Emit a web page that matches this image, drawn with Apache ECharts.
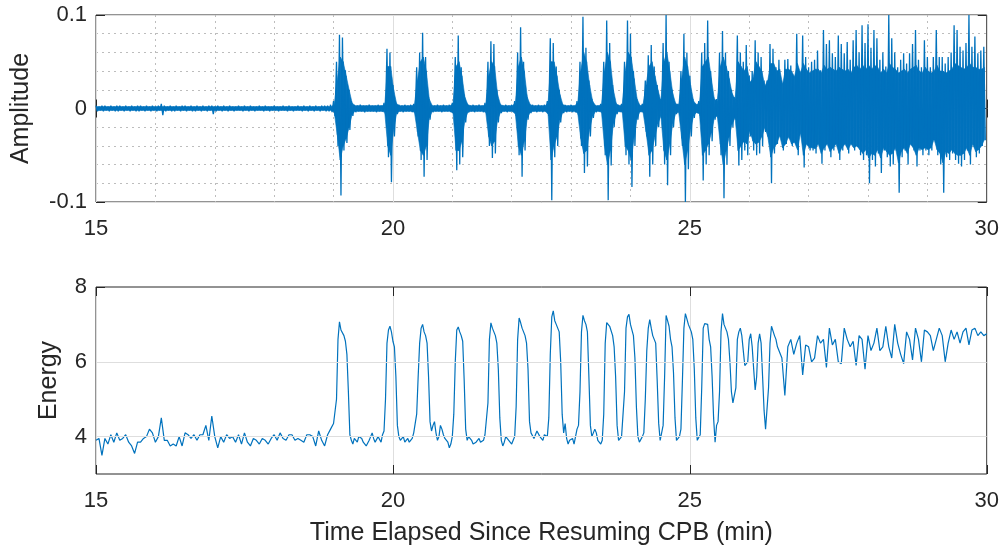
<!DOCTYPE html>
<html><head><meta charset="utf-8">
<script src="https://cdn.jsdelivr.net/npm/echarts@6/dist/echarts.min.js"></script>
<style>html,body{margin:0;padding:0;background:#fff}#c{width:1002px;height:552px}</style>
</head><body><div id="c"></div>
<script>
// ---- data ----
const xTicks = [15, 20, 25, 30];
const ampTicks = [-0.1, 0, 0.1];
const energyTicks = [4, 6, 8];

// amplitude: per 0.05-min sample from 15.00 — extreme spike values (upper/lower)
const ampStart = 15, ampStep = 0.05;
const ampUpper = [
0.003,0.002,0.003,0.003,0.002,0.003,0.002,0.003,0.003,0.002,
0.003,0.002,0.003,0.002,0.003,0.003,0.002,0.003,0.002,0.003,
0.002,0.003,0.005,0.003,0.002,0.003,0.002,0.003,0.002,0.003,
0.003,0.002,0.003,0.002,0.003,0.002,0.003,0.002,0.003,0.003,
0.002,0.003,0.002,0.003,0.002,0.003,0.002,0.002,0.003,0.002,
0.003,0.002,0.003,0.002,0.002,0.003,0.002,0.003,0.002,0.002,
0.003,0.002,0.002,0.003,0.002,0.003,0.002,0.002,0.003,0.002,
0.003,0.002,0.003,0.002,0.003,0.002,0.003,0.003,0.003,0.004,
0.008,0.050,0.079,0.076,0.041,0.020,0.008,0.004,0.003,0.004,
0.003,0.003,0.004,0.003,0.003,0.004,0.003,0.006,0.064,0.060,
0.025,0.006,0.004,0.003,0.004,0.003,0.004,0.005,0.044,0.060,
0.081,0.055,0.012,0.004,0.003,0.004,0.003,0.004,0.003,0.004,
0.006,0.055,0.078,0.044,0.015,0.005,0.003,0.004,0.003,0.004,
0.003,0.006,0.050,0.072,0.069,0.020,0.005,0.003,0.004,0.003,
0.004,0.008,0.060,0.087,0.050,0.015,0.005,0.004,0.003,0.004,
0.003,0.004,0.008,0.075,0.070,0.045,0.020,0.005,0.004,0.003,
0.004,0.003,0.008,0.050,0.098,0.065,0.030,0.010,0.004,0.003,
0.005,0.050,0.094,0.070,0.025,0.006,0.004,0.005,0.050,0.094,
0.080,0.040,0.012,0.004,0.005,0.030,0.057,0.068,0.045,0.025,
0.010,0.070,0.100,0.050,0.020,0.006,0.005,0.040,0.080,0.060,
0.035,0.010,0.005,0.008,0.060,0.070,0.094,0.040,0.012,0.010,
0.060,0.083,0.060,0.040,0.020,0.012,0.078,0.060,0.050,0.068,
0.035,0.040,0.073,0.060,0.055,0.030,0.030,0.069,0.064,0.044,
0.052,0.027,0.052,0.053,0.046,0.034,0.080,0.040,0.078,0.055,
0.044,0.050,0.052,0.062,0.041,0.084,0.069,0.073,0.059,0.055,
0.078,0.069,0.059,0.071,0.052,0.073,0.084,0.060,0.089,0.070,
0.090,0.065,0.084,0.075,0.052,0.060,0.045,0.100,0.075,0.060,
0.044,0.052,0.059,0.048,0.059,0.069,0.084,0.052,0.044,0.073,
0.055,0.044,0.055,0.084,0.055,0.055,0.048,0.055,0.060,0.089,
0.084,0.066,0.062,0.070,0.100,0.066,0.077,0.059,0.062,0.066
];
const ampLower = [
-0.003,-0.002,-0.003,-0.002,-0.003,-0.002,-0.003,-0.003,-0.002,-0.003,
-0.002,-0.003,-0.002,-0.003,-0.003,-0.002,-0.003,-0.002,-0.003,-0.002,
-0.003,-0.002,-0.007,-0.003,-0.002,-0.003,-0.003,-0.002,-0.003,-0.002,
-0.003,-0.002,-0.003,-0.003,-0.002,-0.003,-0.002,-0.003,-0.002,-0.006,
-0.003,-0.002,-0.003,-0.002,-0.003,-0.002,-0.003,-0.002,-0.002,-0.003,
-0.002,-0.003,-0.002,-0.003,-0.002,-0.002,-0.003,-0.002,-0.003,-0.002,
-0.002,-0.003,-0.002,-0.002,-0.003,-0.002,-0.003,-0.002,-0.002,-0.003,
-0.002,-0.003,-0.002,-0.003,-0.002,-0.003,-0.002,-0.003,-0.003,-0.004,
-0.008,-0.040,-0.093,-0.045,-0.037,-0.023,-0.008,-0.004,-0.003,-0.003,
-0.004,-0.003,-0.003,-0.003,-0.004,-0.003,-0.003,-0.006,-0.052,-0.079,
-0.030,-0.006,-0.003,-0.004,-0.003,-0.003,-0.004,-0.005,-0.030,-0.055,
-0.073,-0.055,-0.012,-0.004,-0.003,-0.003,-0.004,-0.003,-0.003,-0.004,
-0.006,-0.066,-0.060,-0.052,-0.015,-0.004,-0.003,-0.004,-0.003,-0.003,
-0.004,-0.005,-0.040,-0.053,-0.048,-0.015,-0.005,-0.003,-0.004,-0.003,
-0.004,-0.008,-0.050,-0.073,-0.045,-0.012,-0.005,-0.003,-0.004,-0.003,
-0.004,-0.003,-0.008,-0.098,-0.052,-0.040,-0.015,-0.005,-0.004,-0.003,
-0.004,-0.004,-0.007,-0.040,-0.069,-0.062,-0.030,-0.010,-0.004,-0.003,
-0.005,-0.050,-0.098,-0.061,-0.020,-0.006,-0.004,-0.005,-0.050,-0.060,
-0.084,-0.040,-0.012,-0.004,-0.005,-0.030,-0.073,-0.060,-0.040,-0.020,
-0.010,-0.060,-0.082,-0.050,-0.020,-0.006,-0.005,-0.040,-0.100,-0.065,
-0.030,-0.010,-0.005,-0.008,-0.077,-0.060,-0.050,-0.035,-0.012,-0.010,
-0.050,-0.096,-0.060,-0.040,-0.020,-0.012,-0.061,-0.055,-0.045,-0.050,
-0.030,-0.045,-0.050,-0.048,-0.040,-0.025,-0.030,-0.080,-0.048,-0.038,
-0.030,-0.045,-0.038,-0.032,-0.040,-0.036,-0.050,-0.027,-0.063,-0.038,
-0.045,-0.045,-0.048,-0.038,-0.059,-0.045,-0.038,-0.052,-0.045,-0.038,
-0.055,-0.045,-0.038,-0.048,-0.038,-0.045,-0.041,-0.050,-0.055,-0.050,
-0.080,-0.055,-0.062,-0.048,-0.069,-0.045,-0.052,-0.062,-0.060,-0.045,
-0.090,-0.052,-0.045,-0.060,-0.038,-0.045,-0.062,-0.045,-0.050,-0.045,
-0.050,-0.045,-0.034,-0.050,-0.060,-0.090,-0.052,-0.055,-0.048,-0.055,
-0.059,-0.062,-0.055,-0.045,-0.060,-0.038,-0.052,-0.048,-0.040,-0.034
];
// amplitude: extent of the solidly filled core of the trace in each sample
const coreUpper = [
0.002,0.002,0.002,0.002,0.002,0.002,0.002,0.002,0.002,0.002,
0.002,0.002,0.002,0.002,0.002,0.002,0.002,0.002,0.002,0.002,
0.002,0.002,0.002,0.002,0.002,0.002,0.002,0.002,0.002,0.002,
0.002,0.002,0.002,0.002,0.002,0.002,0.002,0.002,0.002,0.002,
0.002,0.002,0.002,0.002,0.002,0.002,0.002,0.002,0.002,0.002,
0.002,0.002,0.002,0.002,0.002,0.002,0.002,0.002,0.002,0.002,
0.002,0.002,0.002,0.002,0.002,0.002,0.002,0.002,0.002,0.002,
0.002,0.002,0.002,0.002,0.002,0.002,0.002,0.002,0.002,0.002,
0.004,0.030,0.055,0.050,0.035,0.020,0.006,0.003,0.003,0.003,
0.003,0.003,0.003,0.003,0.003,0.003,0.003,0.004,0.045,0.045,
0.020,0.005,0.003,0.003,0.003,0.003,0.003,0.004,0.030,0.050,
0.055,0.040,0.010,0.003,0.003,0.003,0.003,0.003,0.003,0.003,
0.005,0.045,0.050,0.035,0.012,0.004,0.003,0.003,0.003,0.003,
0.003,0.004,0.035,0.050,0.045,0.015,0.004,0.003,0.003,0.003,
0.003,0.006,0.045,0.055,0.040,0.012,0.004,0.003,0.003,0.003,
0.003,0.003,0.006,0.050,0.050,0.035,0.015,0.004,0.003,0.003,
0.003,0.003,0.006,0.040,0.060,0.050,0.025,0.008,0.003,0.003,
0.004,0.040,0.060,0.050,0.020,0.005,0.003,0.004,0.040,0.060,
0.055,0.032,0.010,0.003,0.004,0.025,0.045,0.050,0.035,0.020,
0.008,0.050,0.060,0.040,0.016,0.005,0.004,0.032,0.055,0.045,
0.025,0.008,0.004,0.006,0.045,0.050,0.055,0.032,0.010,0.008,
0.045,0.055,0.045,0.032,0.016,0.010,0.050,0.045,0.040,0.045,
0.028,0.032,0.050,0.045,0.040,0.024,0.030,0.048,0.048,0.040,
0.042,0.026,0.042,0.042,0.040,0.034,0.048,0.038,0.048,0.042,
0.038,0.040,0.042,0.042,0.038,0.046,0.042,0.044,0.042,0.040,
0.044,0.042,0.040,0.042,0.038,0.044,0.046,0.042,0.046,0.042,
0.046,0.042,0.046,0.044,0.038,0.042,0.038,0.048,0.044,0.042,
0.038,0.040,0.042,0.038,0.042,0.044,0.046,0.040,0.038,0.044,
0.040,0.038,0.040,0.046,0.040,0.040,0.038,0.040,0.042,0.048,
0.046,0.044,0.042,0.044,0.048,0.044,0.044,0.042,0.042,0.044
];
const coreLower = [
-0.002,-0.002,-0.002,-0.002,-0.002,-0.002,-0.002,-0.002,-0.002,-0.002,
-0.002,-0.002,-0.002,-0.002,-0.002,-0.002,-0.002,-0.002,-0.002,-0.002,
-0.002,-0.002,-0.002,-0.002,-0.002,-0.002,-0.002,-0.002,-0.002,-0.002,
-0.002,-0.002,-0.002,-0.002,-0.002,-0.002,-0.002,-0.002,-0.002,-0.002,
-0.002,-0.002,-0.002,-0.002,-0.002,-0.002,-0.002,-0.002,-0.002,-0.002,
-0.002,-0.002,-0.002,-0.002,-0.002,-0.002,-0.002,-0.002,-0.002,-0.002,
-0.002,-0.002,-0.002,-0.002,-0.002,-0.002,-0.002,-0.002,-0.002,-0.002,
-0.002,-0.002,-0.002,-0.002,-0.002,-0.002,-0.002,-0.002,-0.002,-0.002,
-0.004,-0.028,-0.055,-0.040,-0.032,-0.020,-0.006,-0.003,-0.003,-0.003,
-0.003,-0.003,-0.003,-0.003,-0.003,-0.003,-0.003,-0.004,-0.040,-0.050,
-0.022,-0.005,-0.003,-0.003,-0.003,-0.003,-0.003,-0.004,-0.025,-0.045,
-0.050,-0.040,-0.010,-0.003,-0.003,-0.003,-0.003,-0.003,-0.003,-0.003,
-0.005,-0.045,-0.045,-0.035,-0.012,-0.004,-0.003,-0.003,-0.003,-0.003,
-0.003,-0.004,-0.030,-0.040,-0.035,-0.012,-0.004,-0.003,-0.003,-0.003,
-0.003,-0.006,-0.040,-0.050,-0.035,-0.010,-0.004,-0.003,-0.003,-0.003,
-0.003,-0.003,-0.006,-0.055,-0.040,-0.030,-0.012,-0.004,-0.003,-0.003,
-0.003,-0.003,-0.005,-0.032,-0.048,-0.045,-0.022,-0.008,-0.003,-0.003,
-0.004,-0.040,-0.060,-0.045,-0.016,-0.005,-0.003,-0.004,-0.040,-0.045,
-0.055,-0.030,-0.010,-0.003,-0.004,-0.025,-0.050,-0.045,-0.030,-0.016,
-0.008,-0.045,-0.055,-0.038,-0.016,-0.005,-0.004,-0.032,-0.060,-0.045,
-0.022,-0.008,-0.004,-0.006,-0.050,-0.045,-0.038,-0.026,-0.010,-0.008,
-0.038,-0.060,-0.045,-0.030,-0.016,-0.010,-0.045,-0.040,-0.035,-0.038,
-0.024,-0.035,-0.038,-0.036,-0.030,-0.020,-0.030,-0.052,-0.042,-0.038,
-0.029,-0.042,-0.038,-0.030,-0.038,-0.036,-0.044,-0.026,-0.050,-0.038,
-0.042,-0.042,-0.043,-0.038,-0.048,-0.042,-0.038,-0.046,-0.042,-0.038,
-0.048,-0.042,-0.038,-0.044,-0.038,-0.042,-0.040,-0.044,-0.048,-0.044,
-0.053,-0.048,-0.050,-0.044,-0.053,-0.042,-0.046,-0.050,-0.048,-0.042,
-0.058,-0.046,-0.042,-0.048,-0.038,-0.042,-0.050,-0.042,-0.044,-0.042,
-0.044,-0.042,-0.033,-0.044,-0.048,-0.058,-0.046,-0.048,-0.044,-0.048,
-0.050,-0.050,-0.048,-0.042,-0.050,-0.038,-0.046,-0.044,-0.040,-0.033
];

// energy, segment A: 15.00 .. 19.00 every 0.05 min
const energyAStart = 15, energyAStep = 0.05;
const energyA = [
3.90,3.95,3.50,3.95,3.80,4.05,3.85,4.10,3.90,3.95,
4.05,3.85,3.75,3.55,3.85,3.85,3.95,4.00,4.20,4.10,
3.85,4.00,4.50,3.90,3.90,3.75,3.80,3.75,4.00,3.75,
4.10,4.05,3.95,4.05,3.90,4.05,4.05,4.30,3.90,4.55,
4.00,3.70,4.00,3.85,4.05,3.95,4.00,3.85,4.05,3.80,
4.10,3.85,3.75,3.95,3.90,3.80,3.95,3.90,3.80,3.95,
4.05,3.90,4.10,3.95,3.90,4.05,4.05,3.90,3.95,3.90,
3.85,4.05,4.05,4.00,3.75,4.15,3.90,3.75,4.05,4.20,
4.35
];
// energy, segment B (pulses): 19.025 .. 26.50 every 0.025 min
const energyBStart = 19.025, energyBStep = 0.025;
const energyB = [
4.40,5.00,6.60,7.07,6.85,6.90,6.70,6.55,6.20,5.20,
4.05,3.90,3.80,3.95,3.90,3.85,4.00,4.05,3.95,3.85,
3.90,3.75,3.80,3.90,4.00,4.10,3.95,3.85,3.90,4.00,
3.95,3.85,4.05,4.15,5.00,6.50,6.85,6.95,6.80,6.55,
6.40,5.60,4.30,4.00,3.90,3.95,4.00,3.85,3.90,3.95,
3.85,3.80,3.95,4.10,4.05,4.60,5.60,6.50,6.90,7.00,
6.80,6.70,6.50,5.60,4.40,4.15,4.30,4.40,4.10,3.90,
4.00,4.30,4.20,4.05,3.95,3.90,3.85,3.70,3.80,4.00,
4.60,6.00,6.85,6.93,6.80,6.70,6.55,5.50,4.20,3.90,
4.00,4.05,3.90,3.80,3.75,3.85,3.90,3.95,3.85,3.80,
3.90,4.05,4.10,4.90,6.60,7.04,6.90,6.80,6.70,6.50,
5.80,4.50,3.90,3.75,3.85,4.00,4.05,3.90,3.85,3.80,
3.90,4.00,4.80,6.60,7.17,7.05,6.90,6.85,6.70,6.50,
5.80,4.40,4.10,4.10,3.95,4.05,4.15,4.20,4.00,3.95,
3.90,4.05,4.10,4.00,4.50,6.20,7.20,7.36,7.10,7.00,
6.95,6.80,6.00,4.60,4.10,4.35,3.95,3.80,3.90,3.85,
3.95,3.80,4.00,4.20,4.30,5.20,6.80,7.24,7.10,7.00,
6.80,5.60,4.30,4.00,4.05,4.20,4.10,3.90,3.85,3.80,
3.90,4.60,6.50,7.05,7.10,6.95,6.90,6.70,6.40,5.60,
4.30,3.90,3.95,4.00,4.05,5.20,6.90,7.20,7.27,7.00,
6.95,6.70,6.10,4.80,4.00,3.85,3.90,4.00,4.10,5.00,
6.30,6.90,7.13,6.90,6.70,6.60,6.50,5.50,4.36,3.90,
3.87,4.30,5.60,7.24,7.10,6.95,6.60,6.40,5.70,4.50,
3.90,3.85,4.00,4.20,5.50,6.90,7.29,7.15,7.00,7.00,
6.80,6.60,5.80,4.50,3.90,3.92,4.05,5.30,6.90,7.02,
7.00,7.00,6.60,6.40,5.60,4.50,3.85,4.30,4.40,5.20,
6.80,7.29,7.00,6.90,6.80,6.60,6.00,5.20,4.90,4.95,
5.30,6.60,6.80,6.90,6.70,6.30,5.90,5.85,6.00,6.60,
6.75,6.40,5.80,5.25,5.60,6.50,6.75,6.50,5.60,4.70,
4.20,4.20,5.30,6.50,6.95,6.90,6.70,6.60,6.40,6.35
];
// energy, segment C: 26.55 .. 30.00 every 0.05 min
const energyCStart = 26.55, energyCStep = 0.05;
const energyC = [
6.10,5.10,6.40,6.60,6.20,6.50,6.70,5.65,6.45,
6.40,6.00,6.10,6.70,6.50,6.60,5.85,6.90,6.45,6.60,
6.00,5.95,6.90,6.60,6.40,6.55,5.90,6.70,6.60,5.80,
6.70,6.30,6.50,6.90,6.30,6.40,6.95,6.40,6.10,7.00,
6.50,6.20,5.95,6.80,6.60,6.05,6.90,6.60,6.00,6.85,
6.80,6.70,6.30,6.60,6.90,6.70,6.00,6.50,6.85,6.60,
6.80,6.50,6.80,6.90,6.45,6.85,6.90,6.70,6.80,6.70,6.75
];

// ---- build series data ----
const ampData = [];
for (let i = 0; i < ampUpper.length; i++) {
  const t = ampStart + i * ampStep;
  ampData.push([t, ampUpper[i]]);
  ampData.push([t + ampStep / 2, ampLower[i]]);
}
const coreData = coreUpper.map((u, i) => [ampStart + i * ampStep + ampStep / 4, coreLower[i], u]);
const energyData = []
  .concat(energyA.map((v, i) => [energyAStart + i * energyAStep, v]))
  .concat(energyB.map((v, i) => [energyBStart + i * energyBStep, v]))
  .concat(energyC.map((v, i) => [energyCStart + i * energyCStep, v]));

// ---- styling ----
const FONT = '"Liberation Sans", Arial, Helvetica, sans-serif';
const TXT = '#262626';
const GRIDC = '#dedede';
const MINORC = '#bdbdbd';
const BLUE = '#0072BD';
const TICK_FS = 22, NAME_FS = 25;

function xAx(grid, pos, main, minor) {
  return {
    type: 'value', gridIndex: grid, position: pos,
    min: xTicks[0], max: xTicks[xTicks.length - 1], interval: 5,
    axisLine: { show: false },
    axisTick: { show: true, inside: true, length: 9, lineStyle: { color: TXT, width: 1 } },
    axisLabel: { show: main, fontSize: TICK_FS, color: TXT, fontFamily: FONT, margin: 16 },
    splitLine: { show: main, lineStyle: { color: GRIDC, width: 1 } },
    minorTick: { show: false, splitNumber: 5 },
    minorSplitLine: { show: main && minor, lineStyle: { color: MINORC, width: 1, type: [2, 4] } }
  };
}

// core band: quadrilateral between consecutive samples, placed via the axes
function renderCore(params, api) {
  const i = params.dataIndex;
  if (i >= coreData.length - 1) return null;
  const a = coreData[i], b = coreData[i + 1];
  const pts = [
    api.coord([a[0], a[2]]), api.coord([b[0], b[2]]),
    api.coord([b[0], b[1]]), api.coord([a[0], a[1]])
  ];
  return {
    type: 'polygon', shape: { points: pts },
    style: { fill: BLUE, stroke: BLUE, lineWidth: 0.6 }
  };
}

const option = {
  animation: false,
  backgroundColor: '#ffffff',
  textStyle: { fontFamily: FONT },
  grid: [
    { left: 96, right: 14, top: 15, height: 187, show: true, borderColor: TXT, borderWidth: 1, backgroundColor: 'transparent', z: 0 },
    { left: 96, right: 14, top: 287, height: 187, show: true, borderColor: TXT, borderWidth: 1, backgroundColor: 'transparent', z: 0 }
  ],
  xAxis: [
    xAx(0, 'bottom', true, true),
    xAx(0, 'top', false, false),
    Object.assign(xAx(1, 'bottom', true, false), {
      name: 'Time Elapsed Since Resuming CPB (min)', nameLocation: 'middle', nameGap: 47,
      nameTextStyle: { fontSize: NAME_FS, color: TXT, fontFamily: FONT }
    }),
    xAx(1, 'top', false, false)
  ],
  yAxis: [
    {
      type: 'value', gridIndex: 0, position: 'left', min: ampTicks[0], max: ampTicks[2], interval: 0.1,
      axisLine: { show: false },
      axisTick: { show: true, inside: true, length: 9, lineStyle: { color: TXT } },
      axisLabel: { fontSize: TICK_FS, color: TXT, fontFamily: FONT, margin: 9 },
      splitLine: { show: true, lineStyle: { color: GRIDC } },
      minorTick: { show: false, splitNumber: 5 },
      minorSplitLine: { show: true, lineStyle: { color: MINORC, width: 1, type: [2, 4] } },
      name: 'Amplitude', nameLocation: 'middle', nameGap: 62,
      nameTextStyle: { fontSize: NAME_FS, color: TXT, fontFamily: FONT }
    },
    {
      type: 'value', gridIndex: 0, position: 'right', min: ampTicks[0], max: ampTicks[2], interval: 0.1,
      axisLine: { show: false },
      axisTick: { show: true, inside: true, length: 9, lineStyle: { color: TXT } },
      axisLabel: { show: false }, splitLine: { show: false }
    },
    {
      type: 'value', gridIndex: 1, position: 'left', min: 3, max: 8,
      axisLine: { show: false },
      axisTick: { show: true, inside: true, length: 9, lineStyle: { color: TXT }, customValues: energyTicks },
      axisLabel: { fontSize: TICK_FS, color: TXT, fontFamily: FONT, margin: 9, customValues: energyTicks },
      splitLine: { show: false },
      name: 'Energy', nameLocation: 'middle', nameGap: 34,
      nameTextStyle: { fontSize: NAME_FS, color: TXT, fontFamily: FONT }
    },
    {
      type: 'value', gridIndex: 1, position: 'right', min: 3, max: 8,
      axisLine: { show: false },
      axisTick: { show: true, inside: true, length: 9, lineStyle: { color: TXT }, customValues: energyTicks },
      axisLabel: { show: false }, splitLine: { show: false }
    }
  ],
  series: [
    {
      type: 'custom', xAxisIndex: 0, yAxisIndex: 0, data: coreData,
      encode: { x: 0, y: [1, 2] }, renderItem: renderCore, z: 2, silent: true, clip: true
    },
    { // spikes
      type: 'line', xAxisIndex: 0, yAxisIndex: 0, data: ampData,
      showSymbol: false, symbol: 'none', z: 3,
      lineStyle: { color: BLUE, width: 1.3 }, itemStyle: { color: BLUE }
    },
    {
      type: 'line', xAxisIndex: 2, yAxisIndex: 2, data: [], z: 1, silent: true,
      markLine: {
        silent: true, symbol: ['none', 'none'], label: { show: false }, animation: false,
        lineStyle: { color: GRIDC, type: 'solid', width: 1 },
        data: energyTicks.filter(v => v < 8).map(v => ({ yAxis: v }))
      }
    },
    {
      type: 'line', xAxisIndex: 2, yAxisIndex: 2, data: energyData,
      showSymbol: false, symbol: 'none', z: 3,
      lineStyle: { color: BLUE, width: 1.2 }, itemStyle: { color: BLUE }
    }
  ]
};
const chart = echarts.init(document.getElementById('c'), null, { renderer: 'canvas' });
chart.setOption(option);
</script>
</body></html>
